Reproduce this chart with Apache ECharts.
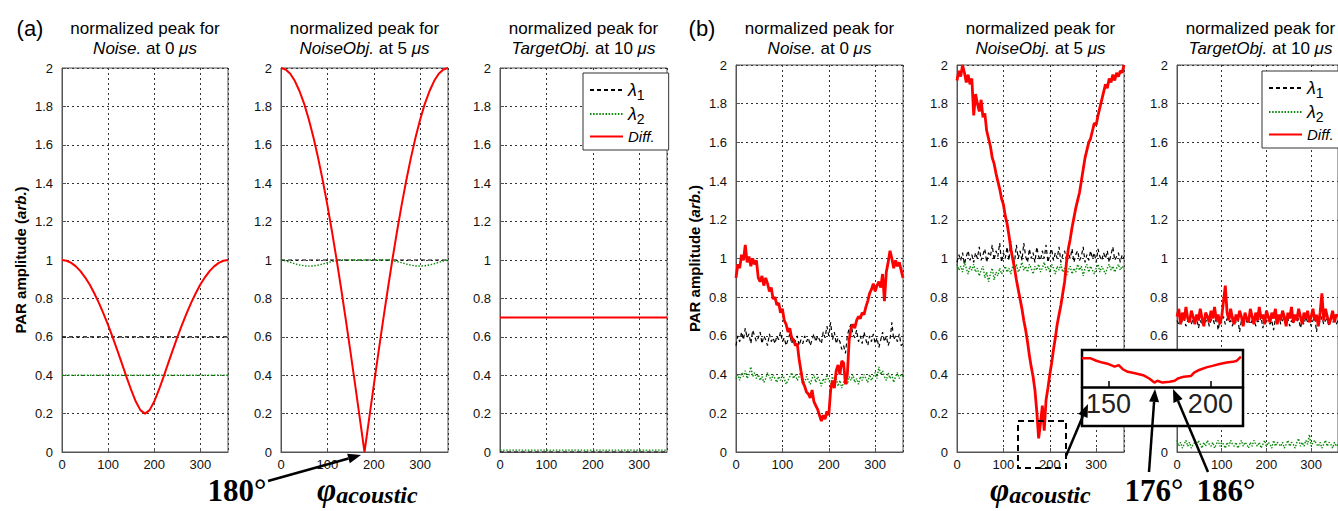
<!DOCTYPE html>
<html><head><meta charset="utf-8">
<script src="https://cdn.jsdelivr.net/npm/echarts@6/dist/echarts.min.js"></script>
<style>html,body{margin:0;padding:0;background:#fff}#c{width:1338px;height:511px}</style>
</head><body><div id="c"></div>
<script>
// ---------------- DATA ----------------
const PHI_ENDS = [0, 360];
const PHI_A = [0,10,20,30,40,50,60,70,80,90,100,110,120,130,140,150,160,170,180,190,200,210,220,230,240,250,260,270,280,290,300,310,320,330,340,350,360];
const PHI_B = [0,4,8,12,16,20,24,28,32,36,40,44,48,52,56,60,64,68,72,76,80,84,88,92,96,100,104,108,112,116,120,124,128,132,136,140,144,148,152,156,160,164,168,172,176,180,184,188,192,196,200,204,208,212,216,220,224,228,232,236,240,244,248,252,256,260,264,268,272,276,280,284,288,292,296,300,304,308,312,316,320,324,328,332,336,340,344,348,352,356,360];

// (a) simulated
const A1_L1 = [0.6, 0.6];
const A1_L2 = [0.4, 0.4];
const A1_DIFF = [1.000,0.996,0.985,0.967,0.942,0.910,0.872,0.827,0.777,0.721,0.661,0.597,0.529,0.460,0.390,0.323,0.263,0.218,0.200,0.218,0.263,0.323,0.390,0.460,0.529,0.597,0.661,0.721,0.777,0.827,0.872,0.910,0.942,0.967,0.985,0.996,1.000];
const A2_L1 = [1.0, 1.0];
const A2_L2 = [1.000,0.995,0.988,0.980,0.974,0.970,0.968,0.969,0.973,0.979,0.986,0.992,0.997,1.000,1.000,1.000,1.000,1.000,1.000,1.000,1.000,1.000,1.000,1.000,0.997,0.992,0.986,0.979,0.973,0.969,0.968,0.970,0.974,0.980,0.988,0.995,1.000];
const A2_DIFF = [2.000,1.992,1.970,1.932,1.879,1.813,1.732,1.638,1.532,1.414,1.286,1.147,1.000,0.845,0.684,0.518,0.347,0.174,0.000,0.174,0.347,0.518,0.684,0.845,1.000,1.147,1.286,1.414,1.532,1.638,1.732,1.813,1.879,1.932,1.970,1.992,2.000];
const A3_L1 = [0.0, 0.0];
const A3_L2 = [0.01, 0.01];
const A3_DIFF = [0.7, 0.7];

// (b) measured
const B1_L1 = [0.55,0.60,0.57,0.62,0.58,0.64,0.59,0.61,0.56,0.63,
 0.60,0.57,0.59,0.62,0.56,0.60,0.58,0.55,0.61,0.57,
 0.59,0.56,0.60,0.58,0.62,0.57,0.59,0.55,0.58,0.61,
 0.56,0.59,0.57,0.60,0.55,0.58,0.56,0.60,0.57,0.59,
 0.55,0.58,0.61,0.57,0.60,0.58,0.56,0.62,0.59,0.65,
 0.60,0.67,0.58,0.62,0.56,0.59,0.57,0.53,0.55,0.51,
 0.60,0.64,0.66,0.61,0.59,0.63,0.57,0.60,0.56,0.62,
 0.58,0.55,0.60,0.57,0.61,0.56,0.59,0.54,0.58,0.62,
 0.57,0.60,0.55,0.58,0.67,0.58,0.60,0.57,0.61,0.55,
 0.56];
const B1_L2 = [0.38,0.40,0.37,0.41,0.39,0.42,0.38,0.40,0.44,0.39,
 0.41,0.38,0.40,0.37,0.39,0.36,0.38,0.41,0.39,0.37,
 0.40,0.38,0.36,0.39,0.37,0.40,0.38,0.35,0.37,0.39,
 0.41,0.38,0.40,0.37,0.39,0.42,0.38,0.36,0.39,0.37,
 0.35,0.38,0.40,0.36,0.39,0.37,0.34,0.38,0.36,0.40,
 0.37,0.35,0.39,0.36,0.38,0.34,0.37,0.33,0.36,0.38,
 0.35,0.39,0.37,0.40,0.36,0.38,0.35,0.39,0.37,0.40,
 0.38,0.36,0.40,0.37,0.39,0.41,0.38,0.44,0.40,0.42,
 0.39,0.37,0.41,0.38,0.40,0.36,0.39,0.41,0.38,0.40,
 0.39];
const B1_DIFF = [0.90,0.97,0.95,1.02,0.99,1.07,0.98,1.01,0.96,1.00,
 0.97,0.99,0.90,0.88,0.91,0.86,0.90,0.87,0.83,0.85,
 0.79,0.80,0.76,0.77,0.72,0.74,0.68,0.66,0.62,0.64,
 0.59,0.58,0.55,0.56,0.48,0.42,0.36,0.34,0.31,0.30,
 0.28,0.32,0.26,0.24,0.22,0.19,0.16,0.19,0.17,0.21,
 0.19,0.32,0.37,0.33,0.42,0.45,0.40,0.47,0.46,0.35,
 0.40,0.58,0.64,0.66,0.64,0.68,0.70,0.69,0.72,0.71,
 0.75,0.78,0.82,0.84,0.87,0.83,0.86,0.88,0.85,0.92,
 0.78,0.93,0.98,1.04,1.00,0.95,0.99,0.96,0.98,0.94,
 0.90];
const B2_L1 = [0.98,1.02,0.99,1.03,0.97,1.01,1.04,0.99,1.02,0.98,
 1.03,1.00,1.06,0.99,1.02,1.05,0.98,1.03,1.01,1.07,
 0.99,1.04,1.01,1.08,0.98,1.03,1.00,1.06,0.99,1.09,
 1.01,0.98,1.07,1.00,1.04,0.99,1.08,1.01,0.98,1.05,
 1.00,1.03,0.98,1.06,1.01,0.99,1.04,1.00,1.07,0.98,
 1.02,1.05,0.99,1.03,1.00,1.06,0.98,1.02,1.04,0.99,
 1.03,1.00,1.05,0.98,1.02,1.04,0.99,1.01,1.06,0.98,
 1.02,0.99,1.04,1.00,1.03,0.98,1.05,1.01,0.99,1.03,
 1.00,1.04,0.98,1.02,1.06,0.99,1.01,1.03,0.98,1.02,
 1.00];
const B2_L2 = [0.97,0.94,0.96,0.93,0.98,0.95,0.92,0.96,0.94,0.97,
 0.93,0.95,0.91,0.94,0.96,0.90,0.93,0.88,0.92,0.95,
 0.89,0.93,0.91,0.95,0.92,0.94,0.96,0.93,0.95,0.92,
 0.96,0.94,0.97,0.93,0.95,0.98,0.94,0.96,0.93,0.97,
 0.95,0.92,0.96,0.94,0.97,0.93,0.95,0.98,0.94,0.96,
 0.93,0.97,0.95,0.92,0.96,0.94,0.97,0.93,0.95,0.91,
 0.94,0.96,0.92,0.95,0.93,0.97,0.94,0.96,0.91,0.95,
 0.97,0.93,0.96,0.94,0.92,0.95,0.97,0.93,0.96,0.94,
 0.92,0.95,0.97,0.94,0.96,0.93,0.95,0.97,0.94,0.96,
 0.95];
const B2_DIFF = [1.92,1.97,1.94,2.00,1.96,1.91,1.95,1.90,1.93,1.74,
 1.85,1.80,1.76,1.82,1.73,1.75,1.66,1.62,1.58,1.52,
 1.49,1.44,1.40,1.36,1.31,1.28,1.22,1.18,1.12,1.05,
 1.00,0.95,0.89,0.84,0.79,0.74,0.68,0.63,0.57,0.50,
 0.44,0.39,0.32,0.21,0.07,0.15,0.24,0.11,0.27,0.33,
 0.40,0.46,0.53,0.59,0.66,0.71,0.76,0.82,0.88,0.98,
 1.05,1.10,1.16,1.21,1.26,1.30,1.34,1.40,1.46,1.52,
 1.56,1.60,1.62,1.66,1.70,1.69,1.74,1.78,1.82,1.86,
 1.90,1.88,1.93,1.91,1.95,1.92,1.96,1.94,1.97,1.96,
 2.00];
const B3_L1 = [0.68,0.66,0.70,0.67,0.69,0.65,0.68,0.70,0.66,0.69,
 0.67,0.70,0.64,0.68,0.66,0.69,0.67,0.70,0.65,0.68,
 0.69,0.66,0.70,0.63,0.68,0.67,0.70,0.66,0.69,0.67,
 0.68,0.65,0.70,0.67,0.69,0.62,0.68,0.66,0.70,0.67,
 0.69,0.66,0.68,0.70,0.65,0.68,0.67,0.70,0.64,0.69,
 0.67,0.70,0.66,0.68,0.63,0.69,0.67,0.70,0.66,0.68,
 0.70,0.67,0.69,0.65,0.68,0.66,0.70,0.67,0.69,0.64,
 0.68,0.66,0.70,0.67,0.69,0.65,0.68,0.70,0.62,0.69,
 0.67,0.70,0.66,0.68,0.69,0.65,0.70,0.67,0.68,0.66,
 0.68];
const B3_L2 = [0.06,0.03,0.05,0.02,0.04,0.06,0.03,0.05,0.02,0.04,
 0.05,0.03,0.06,0.04,0.02,0.05,0.03,0.06,0.04,0.03,
 0.05,0.02,0.04,0.06,0.03,0.05,0.04,0.02,0.05,0.03,
 0.06,0.04,0.03,0.05,0.02,0.04,0.06,0.03,0.05,0.04,
 0.02,0.05,0.03,0.06,0.04,0.03,0.05,0.02,0.04,0.06,
 0.03,0.05,0.04,0.02,0.06,0.03,0.05,0.04,0.03,0.05,
 0.02,0.04,0.06,0.03,0.05,0.04,0.02,0.05,0.07,0.03,
 0.05,0.03,0.06,0.04,0.09,0.03,0.05,0.06,0.04,0.03,
 0.05,0.02,0.04,0.06,0.03,0.05,0.04,0.02,0.05,0.03,
 0.04];
const B3_DIFF = [0.70,0.74,0.66,0.72,0.68,0.75,0.69,0.67,0.73,0.70,
 0.66,0.71,0.68,0.74,0.69,0.65,0.72,0.70,0.67,0.73,
 0.69,0.75,0.68,0.71,0.66,0.70,0.78,0.86,0.72,0.68,
 0.74,0.69,0.66,0.71,0.68,0.73,0.70,0.65,0.72,0.69,
 0.67,0.74,0.70,0.66,0.72,0.68,0.75,0.69,0.71,0.66,
 0.73,0.70,0.67,0.72,0.69,0.74,0.66,0.71,0.68,0.73,
 0.70,0.65,0.72,0.69,0.75,0.67,0.71,0.68,0.74,0.70,
 0.66,0.72,0.69,0.73,0.67,0.70,0.74,0.68,0.71,0.65,
 0.72,0.82,0.68,0.74,0.70,0.66,0.69,0.73,0.67,0.71,
 0.70];
// inset (zoom of NoiseObj Diff near the minimum)
const INSET_PHI = [137,141,144,147,150,153,155,157,159.5,163,167,170,172.5,174,176.5,180,182.5,184,187,190.5,192,194.5,198,201,204.5,208,211,213,215];
const INSET_VAL = [0.78,0.78,0.71,0.66,0.62,0.55,0.59,0.48,0.41,0.37,0.32,0.23,0.12,0.17,0.12,0.14,0.17,0.23,0.28,0.30,0.39,0.46,0.53,0.57,0.62,0.66,0.68,0.71,0.82];
const INSET_TICKS = [150, 200];

const TITLES = [['Noise.','0'],['NoiseObj.','5'],['TargetObj.','10'],['Noise.','0'],['NoiseObj.','5'],['TargetObj.','10']];
const SERIES_NAMES = ['λ1','λ2','Diff.'];

// ---------------- LAYOUT / STYLE ----------------
const SANS = '"Liberation Sans", Arial, Helvetica, sans-serif';
const SERIF = '"Liberation Serif", "Times New Roman", serif';
const GRIDS = [
  {left:62, top:68, width:166, height:384},
  {left:281, top:68, width:167, height:384},
  {left:500, top:68, width:167, height:384},
  {left:736, top:65, width:167, height:387},
  {left:957, top:65, width:167, height:387},
  {left:1177, top:65, width:167, height:387},
  {left:1082, top:350, width:161, height:37}
];
const L1S = {color:'#000', width:1.2, type:[4,3]};
const L2S = {color:'#0a8a0a', width:1.4, type:[1.5,1.6]};
const DAS = {color:'#ff0000', width:2};
const DBS = {color:'#ff0000', width:2.8};

const grid = GRIDS.map((g,i)=>Object.assign({show:i<6, borderColor:'#555', borderWidth:1, backgroundColor:'transparent'}, g));
const xAxis = [], yAxis = [];
for (let i=0;i<6;i++){
  xAxis.push({gridIndex:i, type:'value', min:0, max:360, interval:100,
    axisLine:{show:true, onZero:false, lineStyle:{color:'#555', width:1}},
    axisTick:{show:true, inside:true, length:4, lineStyle:{color:'#555'}},
    axisLabel:{show:true, showMaxLabel:false, margin:6, color:'#111', fontSize:13, fontFamily:SANS},
    splitLine:{show:true, lineStyle:{color:'#333', type:[2,3], width:1}}});
  const y = {gridIndex:i, type:'value', min:0, max:2, interval:0.2,
    axisLine:{show:true, onZero:false, lineStyle:{color:'#555', width:1}},
    axisTick:{show:true, inside:true, length:4, lineStyle:{color:'#555'}},
    axisLabel:{show:true, margin:9, color:'#111', fontSize:13, fontFamily:SANS},
    splitLine:{show:true, lineStyle:{color:'#333', type:[2,3], width:1}}};
  if (i===0 || i===3){
    y.name = '{b|PAR amplitude (}{bi|arb.}{b|)}';
    y.nameLocation = 'middle'; y.nameGap = 34; y.nameRotate = 90;
    y.nameTextStyle = {rich:{b:{fontWeight:'bold', fontSize:15, fontFamily:SANS, color:'#000'},
      bi:{fontWeight:'bold', fontStyle:'italic', fontSize:15, fontFamily:SANS, color:'#000'}}};
  }
  yAxis.push(y);
}
// inset axes
xAxis.push({gridIndex:6, type:'value', min:137, max:216, z:20,
  axisLine:{show:true, onZero:false, lineStyle:{color:'#000', width:2.5}},
  axisTick:{show:true, inside:true, length:6, customValues:INSET_TICKS, lineStyle:{color:'#000', width:1.5}},
  axisLabel:{show:true, customValues:INSET_TICKS, margin:3, color:'#222', fontSize:27, fontFamily:SANS},
  splitLine:{show:false}});
yAxis.push({gridIndex:6, type:'value', min:0, max:1, show:false, splitLine:{show:false}});

const series = [];
function addLine(gi, name, xs, ys, ls, z){
  series.push({type:'line', name, xAxisIndex:gi, yAxisIndex:gi, symbol:'none', showSymbol:false,
    silent:true, animation:false, z:z||2, lineStyle:ls, itemStyle:{color:ls.color},
    data: xs.map((x,k)=>[x, ys[k]])});
}
addLine(0,'λ1',PHI_ENDS,A1_L1,L1S); addLine(0,'λ2',PHI_ENDS,A1_L2,L2S); addLine(0,'Diff.',PHI_A,A1_DIFF,DAS);
addLine(1,'λ1',PHI_ENDS,A2_L1,L1S); addLine(1,'λ2',PHI_A,A2_L2,L2S); addLine(1,'Diff.',PHI_A,A2_DIFF,DAS);
addLine(2,'λ1',PHI_ENDS,A3_L1,L1S); addLine(2,'λ2',PHI_ENDS,A3_L2,L2S); addLine(2,'Diff.',PHI_ENDS,A3_DIFF,DAS);
addLine(3,'λ1',PHI_B,B1_L1,L1S); addLine(3,'λ2',PHI_B,B1_L2,L2S); addLine(3,'Diff.',PHI_B,B1_DIFF,DBS);
addLine(4,'λ1',PHI_B,B2_L1,L1S); addLine(4,'λ2',PHI_B,B2_L2,L2S); addLine(4,'Diff.',PHI_B,B2_DIFF,DBS);
addLine(5,'λ1',PHI_B,B3_L1,L1S); addLine(5,'λ2',PHI_B,B3_L2,L2S); addLine(5,'Diff.',PHI_B,B3_DIFF,DBS);
addLine(6,'inset',INSET_PHI,INSET_VAL,{color:'#ff0000', width:2.5},20);

const legRich = {
  l:{fontSize:18, fontStyle:'italic', fontFamily:SANS, color:'#000', lineHeight:24},
  s:{fontSize:14, fontFamily:SANS, color:'#000', lineHeight:14, verticalAlign:'bottom'},
  d:{fontSize:15, fontStyle:'italic', fontFamily:SANS, color:'#000', lineHeight:24}
};
function legFmt(n){ return n==='Diff.' ? '{d|Diff.}' : '{l|λ}{s|'+n.slice(1)+'}'; }
const legBase = {orient:'vertical', selectedMode:false, itemWidth:33, itemHeight:14, itemGap:3,
  backgroundColor:'#fff', borderColor:'#333', borderWidth:1, padding:[8,14,6,6],
  itemStyle:{opacity:0, borderWidth:0},
  data:SERIES_NAMES, formatter:legFmt, textStyle:{rich:legRich}, z:8};
const legend = [Object.assign({left:583, top:73}, legBase), Object.assign({left:1262, top:71}, legBase)];

// ---------------- GRAPHICS ----------------
const g = [];
function txt(x,y,text,style,extra){ g.push(Object.assign({type:'text', x, y, z:10, silent:true,
  style:Object.assign({text, fill:'#000', textAlign:'center', textVerticalAlign:'middle', align:'center', verticalAlign:'middle'}, style)}, extra||{})); }
function arrow(tx,ty,hx,hy,w){
  const dx=hx-tx, dy=hy-ty, L=Math.hypot(dx,dy), ux=dx/L, uy=dy/L, hl=13, hw=5;
  const bx=hx-ux*hl, by=hy-uy*hl;
  g.push({type:'line', z:15, silent:true, shape:{x1:tx,y1:ty,x2:bx,y2:by}, style:{stroke:'#000', lineWidth:w}});
  g.push({type:'polygon', z:15, silent:true, shape:{points:[[hx,hy],[bx-uy*hw,by+ux*hw],[bx+uy*hw,by-ux*hw]]}, style:{fill:'#000'}});
}
txt(30, 28, '(a)', {font:'22px '+SANS});
txt(702, 28, '(b)', {font:'22px '+SANS});
GRIDS.slice(0,6).forEach((gr,i)=>{
  const cx = gr.left + gr.width/2;
  txt(cx, 18, 'normalized peak for\n{i|'+TITLES[i][0]+'} at '+TITLES[i][1]+' {i|μs}',
    {font:'17px '+SANS, lineHeight:20, textVerticalAlign:'top', verticalAlign:'top',
     rich:{i:{fontStyle:'italic', fontSize:17, fontFamily:SANS, lineHeight:20}}});
});
const phiRich = {p:{font:'bold italic 33px '+SERIF, lineHeight:34, verticalAlign:'middle'}, s:{font:'bold italic 24px '+SERIF, lineHeight:22, verticalAlign:'bottom'}};
txt(237, 490, '180°', {font:'bold 31px '+SERIF});
txt(317, 490, '{p|φ}{s|acoustic}', {textAlign:'left', align:'left', rich:phiRich});
txt(990, 490, '{p|φ}{s|acoustic}', {textAlign:'left', align:'left', rich:phiRich});
txt(1154, 490, '176°', {font:'bold 31px '+SERIF});
txt(1226, 490, '186°', {font:'bold 31px '+SERIF});
arrow(268, 481, 361, 455, 2.5);
// dashed zoom box and inset frame
g.push({type:'rect', z:15, silent:true, shape:{x:1018,y:421,width:48,height:47}, style:{fill:'none', stroke:'#000', lineWidth:2, lineDash:[6,4]}});
g.push({type:'rect', z:10, silent:true, shape:{x:1082,y:350,width:161,height:76}, style:{fill:'#fff', stroke:'#000', lineWidth:2.5}});
arrow(1066, 456, 1088, 404, 2.5);
arrow(1149, 472, 1155, 389, 2.5);
arrow(1208, 472, 1173, 389, 2.5);

const chart = echarts.init(document.getElementById('c'), null, {renderer:'svg'});
chart.setOption({animation:false, backgroundColor:'#fff', grid, xAxis, yAxis, series, legend, graphic:{elements:g}});
</script></body></html>
